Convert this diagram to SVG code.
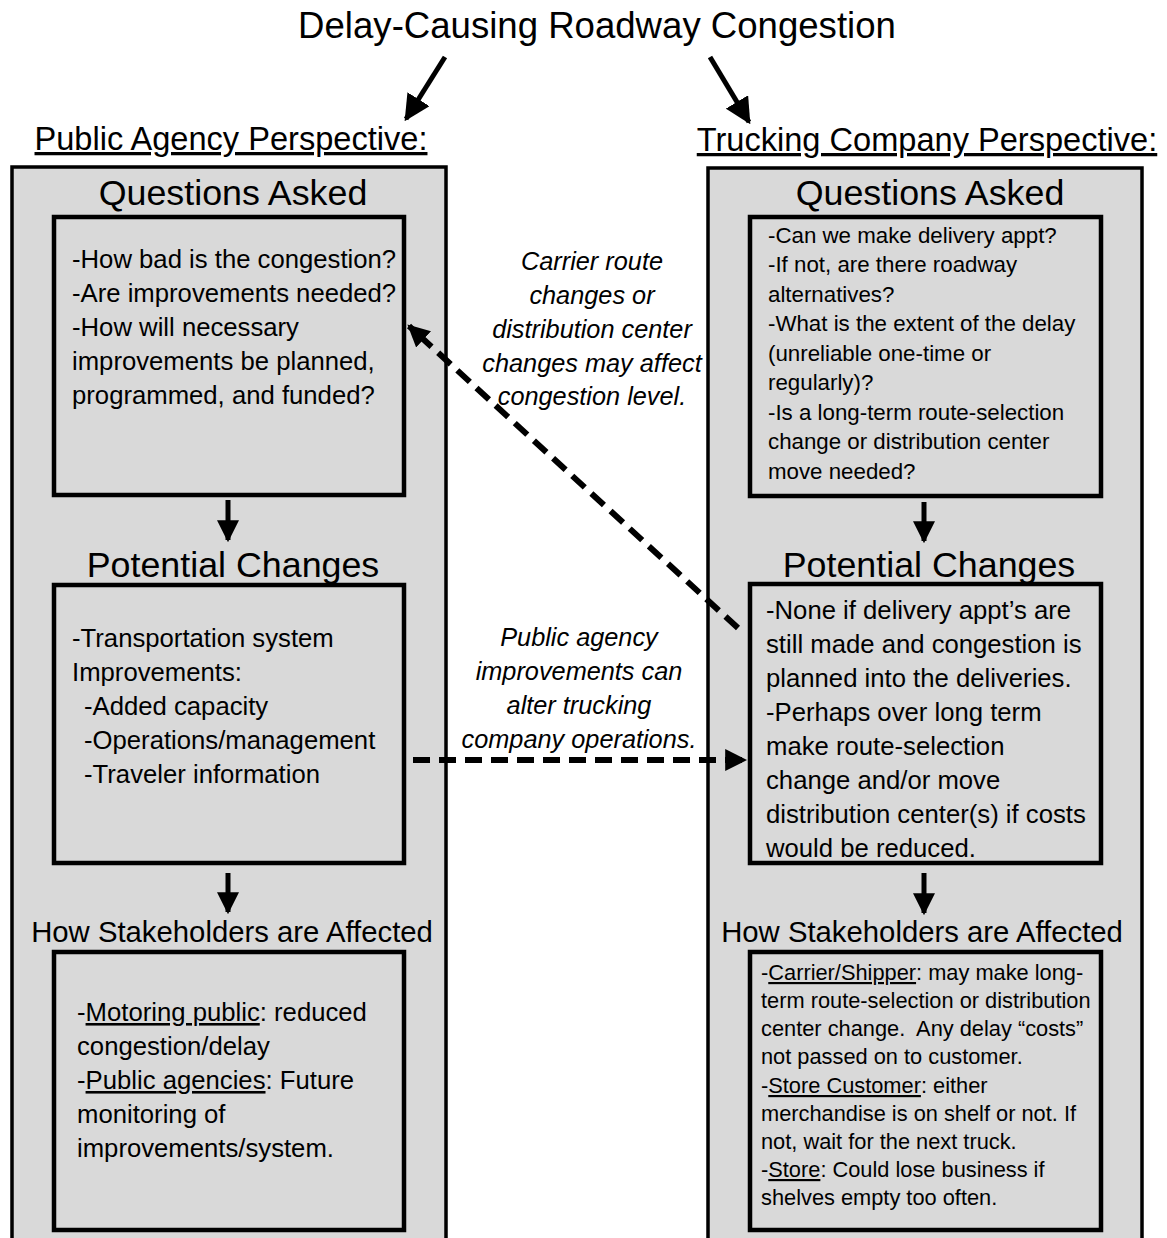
<svg xmlns="http://www.w3.org/2000/svg" width="1167" height="1238" viewBox="0 0 1167 1238">
<style>
text{font-family:"Liberation Sans",Arial,sans-serif;fill:#000}
.title{font-size:36.6px}
.persp{font-size:32.6px;text-decoration:underline}
.h1{font-size:35.8px}
.h2{font-size:29.3px}
.tl{font-size:25.7px}
.ts{font-size:22.3px}
.tb{font-size:21.8px}
.it{font-size:25.3px;font-style:italic}
.u{text-decoration:underline}
.panel{fill:#d9d9d9;stroke:#000;stroke-width:3.5}
.box{fill:#d9d9d9;stroke:#000;stroke-width:4.5}
.solid{stroke:#000;stroke-width:5;fill:none}
.dash{stroke:#000;stroke-width:6;fill:none;stroke-dasharray:17 9}
.head{fill:#000}
</style>
<defs>
<marker id="ah" viewBox="0 0 10 10" refX="9" refY="5" markerWidth="22" markerHeight="22" markerUnits="userSpaceOnUse" orient="auto"><path d="M0,0 L10,5 L0,10 z" class="head"/></marker>
<marker id="ahb" viewBox="0 0 10 10" refX="9" refY="5" markerWidth="26" markerHeight="26" markerUnits="userSpaceOnUse" orient="auto"><path d="M0,0 L10,5 L0,10 z" class="head"/></marker>
</defs>
<rect width="1167" height="1238" fill="#fff"/>

<g id="title"><text class="title" x="597" y="38" text-anchor="middle">Delay-Causing Roadway Congestion</text></g>

<g id="public-agency">
<text class="persp" x="231" y="150" text-anchor="middle">Public Agency Perspective:</text>
<rect class="panel" x="12" y="167" width="434" height="1080"/>
</g>
<g id="trucking-company">
<text class="persp" x="927" y="151" text-anchor="middle">Trucking Company Perspective:</text>
<rect class="panel" x="708" y="168" width="434" height="1080"/>
</g>

<g id="pa-questions">
<text class="h1" x="233" y="205" text-anchor="middle">Questions Asked</text>
<rect class="box" x="54" y="217" width="350" height="278"/>
<text class="tl" x="72" y="268">-How bad is the congestion?</text>
<text class="tl" x="72" y="302">-Are improvements needed?</text>
<text class="tl" x="72" y="336">-How will necessary</text>
<text class="tl" x="72" y="370">improvements be planned,</text>
<text class="tl" x="72" y="404">programmed, and funded?</text>
</g>
<g id="pa-changes">
<text class="h1" x="233" y="577" text-anchor="middle">Potential Changes</text>
<rect class="box" x="54" y="585" width="350" height="278"/>
<text class="tl" x="72" y="647">-Transportation system</text>
<text class="tl" x="72" y="681">Improvements:</text>
<text class="tl" x="84" y="715">-Added capacity</text>
<text class="tl" x="84" y="749">-Operations/management</text>
<text class="tl" x="84" y="783">-Traveler information</text>
</g>
<g id="pa-stakeholders">
<text class="h2" x="232" y="942" text-anchor="middle">How Stakeholders are Affected</text>
<rect class="box" x="54" y="952" width="350" height="278"/>
<text class="tl" x="77" y="1021">-<tspan class="u">Motoring public</tspan>: reduced</text>
<text class="tl" x="77" y="1055">congestion/delay</text>
<text class="tl" x="77" y="1089">-<tspan class="u">Public agencies</tspan>: Future</text>
<text class="tl" x="77" y="1123">monitoring of</text>
<text class="tl" x="77" y="1157">improvements/system.</text>
</g>

<g id="tc-questions">
<text class="h1" x="930" y="205" text-anchor="middle">Questions Asked</text>
<rect class="box" x="750" y="217" width="351" height="279"/>
<text class="ts" x="768" y="243">-Can we make delivery appt?</text>
<text class="ts" x="768" y="272">-If not, are there roadway</text>
<text class="ts" x="768" y="302">alternatives?</text>
<text class="ts" x="768" y="331">-What is the extent of the delay</text>
<text class="ts" x="768" y="361">(unreliable one-time or</text>
<text class="ts" x="768" y="390">regularly)?</text>
<text class="ts" x="768" y="420">-Is a long-term route-selection</text>
<text class="ts" x="768" y="449">change or distribution center</text>
<text class="ts" x="768" y="479">move needed?</text>
</g>
<g id="tc-changes">
<text class="h1" x="929" y="577" text-anchor="middle">Potential Changes</text>
<rect class="box" x="750" y="584" width="351" height="279"/>
<text class="tl" x="766" y="619">-None if delivery appt’s are</text>
<text class="tl" x="766" y="653">still made and congestion is</text>
<text class="tl" x="766" y="687">planned into the deliveries.</text>
<text class="tl" x="766" y="721">-Perhaps over long term</text>
<text class="tl" x="766" y="755">make route-selection</text>
<text class="tl" x="766" y="789">change and/or move</text>
<text class="tl" x="766" y="823">distribution center(s) if costs</text>
<text class="tl" x="766" y="857">would be reduced.</text>
</g>
<g id="tc-stakeholders">
<text class="h2" x="922" y="942" text-anchor="middle">How Stakeholders are Affected</text>
<rect class="box" x="750" y="952" width="351" height="278"/>
<text class="tb" x="761" y="980">-<tspan class="u">Carrier/Shipper</tspan>: may make long-</text>
<text class="tb" x="761" y="1008">term route-selection or distribution</text>
<text class="tb" x="761" y="1036">center change.&#160; Any delay “costs”</text>
<text class="tb" x="761" y="1064">not passed on to customer.</text>
<text class="tb" x="761" y="1093">-<tspan class="u">Store Customer</tspan>: either</text>
<text class="tb" x="761" y="1121">merchandise is on shelf or not. If</text>
<text class="tb" x="761" y="1149">not, wait for the next truck.</text>
<text class="tb" x="761" y="1177">-<tspan class="u">Store</tspan>: Could lose business if</text>
<text class="tb" x="761" y="1205">shelves empty too often.</text>
</g>

<g id="label-carrier">
<text class="it" x="592" y="270" text-anchor="middle">Carrier route</text>
<text class="it" x="592" y="304" text-anchor="middle">changes or</text>
<text class="it" x="592" y="338" text-anchor="middle">distribution center</text>
<text class="it" x="592" y="372" text-anchor="middle">changes may affect</text>
<text class="it" x="592" y="405" text-anchor="middle">congestion level.</text>
</g>
<g id="label-public">
<text class="it" x="579" y="646" text-anchor="middle">Public agency</text>
<text class="it" x="579" y="680" text-anchor="middle">improvements can</text>
<text class="it" x="579" y="714" text-anchor="middle">alter trucking</text>
<text class="it" x="579" y="748" text-anchor="middle">company operations.</text>
</g>

<g id="connectors">
<line class="solid" x1="445" y1="57" x2="406" y2="119" marker-end="url(#ahb)"/>
<line class="solid" x1="710" y1="57" x2="749" y2="122" marker-end="url(#ahb)"/>
<line class="solid" x1="228" y1="500" x2="228" y2="540" marker-end="url(#ah)"/>
<line class="solid" x1="228" y1="873" x2="228" y2="912" marker-end="url(#ah)"/>
<line class="solid" x1="924" y1="502" x2="924" y2="541" marker-end="url(#ah)"/>
<line class="solid" x1="924" y1="873" x2="924" y2="913" marker-end="url(#ah)"/>
<line class="dash" x1="738" y1="628" x2="409" y2="326" marker-end="url(#ah)"/>
<line class="dash" x1="413" y1="760" x2="745" y2="760" marker-end="url(#ah)"/>
</g>
</svg>
